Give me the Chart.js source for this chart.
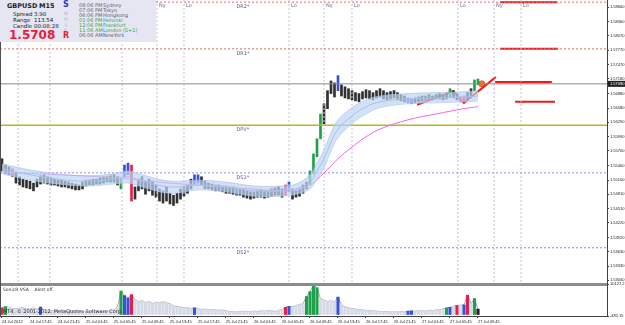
<!DOCTYPE html>
<html>
<head>
<meta charset="utf-8">
<script src="https://cdn.jsdelivr.net/npm/chart.js@4.4.0/dist/chart.umd.min.js"></script>
<style>
  body { margin: 0; background: #fff; }
  #wrap { position: relative; width: 625px; height: 325px; }
  #info { position: absolute; left: 0; top: 0; width: 156px; height: 42px; background: #e6e6f3;
          font-family: 'DejaVu Sans', sans-serif; color: #202020; }
  #info span { position: absolute; white-space: nowrap; }
  .sm { font-size: 5px; color: #606070; }
  .gr { color: #3aa04a; }
</style>
</head>
<body>
<div id="wrap">
  <canvas id="priceChart" width="625" height="325"></canvas>
  <div id="info">
    <span style="left:7px;top:2px;font-size:6.5px;font-weight:bold">GBPUSD</span>
    <span style="left:39px;top:2px;font-size:6.5px;font-weight:bold">M15</span>
    <span style="left:13px;top:11px;font-size:5.5px">Spread</span>
    <span style="left:34px;top:11px;font-size:5.5px">3.90</span>
    <span style="left:13px;top:17px;font-size:5.5px">Range</span>
    <span style="left:34px;top:17px;font-size:5.5px">113.54</span>
    <span style="left:13px;top:23px;font-size:5.5px">Candle</span>
    <span style="left:34px;top:23px;font-size:5.5px">00:08:28</span>
    <span style="left:9px;top:28px;font-size:12px;font-weight:bold;color:#e8203c">1.5708</span>
    <span style="left:63px;top:0px;font-size:8px;font-weight:bold;color:#2a3ad0">S</span>
    <span style="left:64px;top:9px;font-size:6px;color:#a8a8d8">o</span>
    <span style="left:64px;top:15px;font-size:6px;color:#a8a8d8">n</span>
    <span style="left:65px;top:21px;font-size:6px;color:#a8a8d8">i</span>
    <span style="left:64px;top:26px;font-size:6px;color:#a8a8d8">c</span>
    <span style="left:63px;top:31px;font-size:8px;font-weight:bold;color:#e8203c">R</span>
    <span class="sm" style="left:79px;top:2px">08:06 PM</span><span class="sm" style="left:103px;top:2px">Sydney</span>
    <span class="sm" style="left:79px;top:7px">07:06 PM</span><span class="sm" style="left:103px;top:7px">Tokyo</span>
    <span class="sm" style="left:79px;top:12px">06:06 PM</span><span class="sm" style="left:103px;top:12px">Hongkong</span>
    <span class="sm gr" style="left:79px;top:17px">01:06 PM</span><span class="sm gr" style="left:103px;top:17px">Helsinki</span>
    <span class="sm gr" style="left:79px;top:22px">12:06 PM</span><span class="sm gr" style="left:103px;top:22px">Frankfurt</span>
    <span class="sm gr" style="left:79px;top:27px">11:06 AM</span><span class="sm gr" style="left:103px;top:27px">London (S+1)</span>
    <span class="sm" style="left:79px;top:32px">06:06 AM</span><span class="sm" style="left:103px;top:32px">NewYork</span>
  </div>
</div>
<script>
// GBPUSD M15, every second bar kept (x = bar number, 30 min apart)
const timeLabels = ['24 Jul 2012', '24 Jul 17:45', '24 Jul 21:45', '25 Jul 01:45', '25 Jul 05:45',
    '25 Jul 09:45', '25 Jul 13:45', '25 Jul 17:45', '25 Jul 21:45', '26 Jul 01:45', '26 Jul 05:45',
    '26 Jul 09:45', '26 Jul 13:45', '26 Jul 17:45', '26 Jul 21:45', '27 Jul 01:45', '27 Jul 05:45',
    '27 Jul 09:45'];

const highs = [
    1.5554, 1.5541, 1.5537, 1.5533, 1.5525, 1.5517, 1.5512, 1.5510, 1.5508, 1.5504,
    1.5512, 1.5519, 1.5521, 1.5517, 1.5515, 1.5512, 1.5510, 1.5510, 1.5508, 1.5506,
    1.5504, 1.5502, 1.5500, 1.5506, 1.5510, 1.5510, 1.5512, 1.5512, 1.5515, 1.5517,
    1.5517, 1.5519, 1.5521, 1.5517, 1.5512, 1.5541, 1.5545, 1.5541, 1.5496, 1.5512,
    1.5517, 1.5508, 1.5512, 1.5508, 1.5500, 1.5492, 1.5488, 1.5496, 1.5483, 1.5479,
    1.5483, 1.5492, 1.5496, 1.5500, 1.5512, 1.5521, 1.5521, 1.5517, 1.5508, 1.5504,
    1.5502, 1.5500, 1.5500, 1.5498, 1.5498, 1.5496, 1.5496, 1.5494, 1.5492, 1.5492,
    1.5488, 1.5486, 1.5486, 1.5488, 1.5490, 1.5488, 1.5488, 1.5492, 1.5494, 1.5496,
    1.5492, 1.5500, 1.5506, 1.5492, 1.5488, 1.5492, 1.5500, 1.5506, 1.5529, 1.5564,
    1.5595, 1.5646, 1.5667, 1.5694, 1.5714, 1.5710, 1.5725, 1.5706, 1.5702, 1.5698,
    1.5694, 1.5690, 1.5688, 1.5692, 1.5696, 1.5694, 1.5690, 1.5694, 1.5698, 1.5694,
    1.5690, 1.5692, 1.5694, 1.5690, 1.5686, 1.5683, 1.5679, 1.5677, 1.5679, 1.5681,
    1.5683, 1.5683, 1.5686, 1.5683, 1.5686, 1.5688, 1.5686, 1.5688, 1.5698, 1.5694,
    1.5688, 1.5681, 1.5683, 1.5690, 1.5698, 1.5716, 1.5718];

const lows = [
    1.5529, 1.5523, 1.5521, 1.5517, 1.5504, 1.5500, 1.5496, 1.5494, 1.5492, 1.5488,
    1.5496, 1.5502, 1.5504, 1.5502, 1.5500, 1.5500, 1.5498, 1.5496, 1.5496, 1.5494,
    1.5492, 1.5490, 1.5490, 1.5492, 1.5498, 1.5500, 1.5500, 1.5502, 1.5502, 1.5504,
    1.5506, 1.5506, 1.5506, 1.5500, 1.5492, 1.5517, 1.5521, 1.5467, 1.5471, 1.5488,
    1.5492, 1.5481, 1.5488, 1.5479, 1.5475, 1.5467, 1.5463, 1.5467, 1.5461, 1.5458,
    1.5463, 1.5471, 1.5477, 1.5483, 1.5492, 1.5500, 1.5504, 1.5500, 1.5492, 1.5492,
    1.5490, 1.5488, 1.5488, 1.5486, 1.5483, 1.5483, 1.5481, 1.5479, 1.5479, 1.5475,
    1.5473, 1.5471, 1.5473, 1.5475, 1.5475, 1.5473, 1.5475, 1.5477, 1.5479, 1.5479,
    1.5475, 1.5479, 1.5486, 1.5471, 1.5475, 1.5477, 1.5483, 1.5492, 1.5500, 1.5523,
    1.5558, 1.5595, 1.5626, 1.5657, 1.5688, 1.5681, 1.5694, 1.5683, 1.5679, 1.5677,
    1.5675, 1.5673, 1.5671, 1.5677, 1.5679, 1.5677, 1.5675, 1.5679, 1.5681, 1.5677,
    1.5675, 1.5677, 1.5679, 1.5675, 1.5673, 1.5671, 1.5669, 1.5667, 1.5669, 1.5671,
    1.5673, 1.5675, 1.5675, 1.5675, 1.5677, 1.5677, 1.5675, 1.5677, 1.5681, 1.5679,
    1.5675, 1.5671, 1.5669, 1.5675, 1.5681, 1.5694, 1.5706];

const volumes = [
    2200, 2600, 2400, 2000, 1900, 2100, 2300, 2000, 1800, 2200,
    1700, 2500, 1500, 1300, 1200, 1400, 1100, 1300, 1200, 1000,
    1300, 1100, 1200, 1000, 900, 1100, 1000, 1200, 900, 1000,
    1100, 1200, 1500, 2500, 7800, 6300, 5500, 6600, 5000, 4200,
    4600, 3900, 4400, 3600, 4100, 3800, 4300, 3900, 3500, 2900,
    2600, 2500, 2200, 2300, 2000, 2200, 1900, 1700, 1800, 1600,
    1700, 1500, 1400, 1500, 1200, 1000, 900, 800, 1000, 1100,
    900, 1000, 1100, 1000, 1200, 1100, 1300, 1200, 1000, 1400,
    1600, 2400, 2700, 2500, 3000, 3300, 3600, 6000, 7600, 9800,
    8900, 5200, 4800, 4300, 4600, 4100, 5800, 3200, 2600, 2200,
    2000, 1800, 1600, 1500, 1400, 1300, 1200, 1100, 1000, 900,
    1000, 800, 900, 800, 900, 1000, 1100, 1200, 1100, 1200,
    1300, 1100, 1400, 1300, 1500, 1600, 1800, 2200, 2400, 2700,
    3000, 3100, 3200, 6400, 3600, 5300, 1800];

// VSA signal bars (indices)
const upBars = [34, 88, 89, 90, 91, 128, 135, 136];
const neutralBars = [35, 36, 55, 56, 67, 82, 96, 116, 117];
const downBars = [3, 37, 81, 131, 132];
const volUp = [1, 34, 87, 88, 89, 90, 127, 135];
const volNeutral = [11, 35, 36, 55, 82, 96, 116, 117, 128, 132];
const volDown = [0, 37, 81, 130, 133];
const volLast = [136];

// moving averages, sampled at bar numbers
const maBars = [0, 8, 16, 24, 32, 36, 40, 48, 56, 64, 72, 80, 84, 88, 90, 92, 94, 96, 100, 104, 108, 116, 124, 132, 136];
const maBlue = [1.5533, 1.5521, 1.5512, 1.5508, 1.5512, 1.5517, 1.5508, 1.5496, 1.5500, 1.5496, 1.5488, 1.5488,
    1.5492, 1.5506, 1.5529, 1.5554, 1.5588, 1.5615, 1.5642, 1.5661, 1.5671, 1.5677, 1.5679, 1.5681, 1.5683];
const bandUpper = [1.5543, 1.5531, 1.5523, 1.5519, 1.5523, 1.5529, 1.5521, 1.5508, 1.5510, 1.5506, 1.5498, 1.5498,
    1.5502, 1.5521, 1.5545, 1.5572, 1.5607, 1.5634, 1.5659, 1.5675, 1.5683, 1.5688, 1.5690, 1.5692, 1.5694];
const bandLower = [1.5523, 1.5510, 1.5502, 1.5498, 1.5502, 1.5504, 1.5496, 1.5483, 1.5490, 1.5486, 1.5477, 1.5477,
    1.5481, 1.5492, 1.5512, 1.5535, 1.5570, 1.5597, 1.5626, 1.5646, 1.5659, 1.5667, 1.5669, 1.5671, 1.5673];
const pinkBars = [0, 16, 32, 48, 64, 80, 84, 88, 92, 96, 100, 104, 108, 116, 124, 132, 136];
const maPink = [1.5527, 1.5521, 1.5515, 1.5504, 1.5496, 1.5488, 1.5490, 1.5500, 1.5525, 1.5554, 1.5578,
    1.5599, 1.5615, 1.5634, 1.5646, 1.5657, 1.5661];

// pivot levels
const levelNames = ['DR2*', 'DR1*', 'DPV*', 'DS1*', 'DS2*'];
const levelValues = [1.5876, 1.5780, 1.5623, 1.5525, 1.5371];
const bidPrice = 1.5708;

// session markers
const sessionBars = [4.6, 13.7, 34.3, 44.3, 52, 82, 92, 100, 130.3, 140.6, 148.3];
const sessionNames = ['', '', '', 'Ny', 'Lo', 'Lo', 'Ny', 'Lo', 'Lo', 'Ny', 'Lo'];

// hand drawn objects
const trendBars = [118.6, 128.9, 132, 141.1];
const trendPrices = [1.5665, 1.5693, 1.5669, 1.5722];
const segStart = [142.3, 142.3, 140.9, 146.6];
const segEnd = [158.6, 158.9, 157.1, 158];
const segPrices = [1.5876, 1.5780, 1.5712, 1.5671];
const priceTicks = [1.58660, 1.58360, 1.58070, 1.57770, 1.57470, 1.57180, 1.56880, 1.56580, 1.56290, 1.55990,
    1.55700, 1.55400, 1.55100, 1.54810, 1.54510, 1.54220, 1.53920, 1.53630, 1.53330, 1.53040];
const volTicks = [-482.15, 10127.2];

const X_MIN = -0.571, X_MAX = 172.86;
const Y_MAX = 1.58804, Y_MIN = 1.52965;
const Y_FULL_MIN = 1.52306; // price at the bottom of the indicator window

const colorOf = (i, up, mid, down, base) =>
    up.includes(i) ? '#21a04a' : mid.includes(i) ? '#3652d8' : down.includes(i) ? '#e3204c' : base;

const datasets = [];

datasets.push({
    type: 'line', yAxisID: 'y',
    data: maBars.map((b, i) => ({ x: b, y: bandUpper[i] })),
    borderColor: 'rgba(160,190,235,0.6)', borderWidth: 1, pointRadius: 0, tension: 0.4,
    fill: '+1', backgroundColor: 'rgba(190,212,242,0.7)'
});
datasets.push({
    type: 'line', yAxisID: 'y',
    data: maBars.map((b, i) => ({ x: b, y: bandLower[i] })),
    borderColor: 'rgba(160,190,235,0.6)', borderWidth: 1, pointRadius: 0, tension: 0.4, fill: false
});
datasets.push({
    type: 'line', yAxisID: 'y',
    data: maBars.map((b, i) => ({ x: b, y: maBlue[i] })),
    borderColor: '#7d90dc', borderWidth: 1, pointRadius: 0, tension: 0.4
});
datasets.push({
    type: 'line', yAxisID: 'y',
    data: pinkBars.map((b, i) => ({ x: b, y: maPink[i] })),
    borderColor: '#ee66ee', borderWidth: 1, pointRadius: 0, tension: 0.4
});

// level lines
const levelColors = ['#e07070', '#e07070', '#b8b820', '#8c8cf0', '#8c8cf0'];
levelValues.forEach((v, i) => datasets.push({
    type: 'line', yAxisID: 'y',
    data: [{ x: X_MIN, y: v }, { x: X_MAX, y: v }],
    borderColor: levelColors[i], borderWidth: i === 2 ? 1.5 : 1,
    borderDash: i === 2 ? [] : [2, 2], pointRadius: 0
}));
datasets.push({
    type: 'line', yAxisID: 'y',
    data: [{ x: X_MIN, y: bidPrice }, { x: X_MAX, y: bidPrice }],
    borderColor: '#8a8a8a', borderWidth: 1, pointRadius: 0
});

sessionBars.forEach(b => datasets.push({
    type: 'line', yAxisID: 'y',
    data: [{ x: b, y: Y_MAX }, { x: b, y: Y_FULL_MIN }],
    borderColor: '#c4c4dc', borderWidth: 1, borderDash: [2, 2], pointRadius: 0
}));

// candles as high-low ranges
datasets.push({
    type: 'bar', yAxisID: 'y', grouped: false,
    data: highs.map((h, i) => ({ x: i, y: [lows[i], h] })),
    backgroundColor: highs.map((h, i) => colorOf(i, upBars, neutralBars, downBars, '#303030')),
    barThickness: 2, borderWidth: 0
});

// volume
datasets.push({
    type: 'bar', yAxisID: 'yv', grouped: false,
    data: volumes.map((v, i) => ({ x: i, y: v })),
    backgroundColor: volumes.map((v, i) => volLast.includes(i) ? '#202020' :
        colorOf(i, volUp, volNeutral, volDown, '#d6dae6')),
    barThickness: 2.5, borderWidth: 0
});
datasets.push({
    type: 'line', yAxisID: 'yv',
    data: volumes.map((v, i) => ({ x: i, y: v })),
    borderColor: '#a4a9b8', borderWidth: 1, pointRadius: 0
});

// drawn objects
datasets.push({
    type: 'line', yAxisID: 'y',
    data: trendBars.map((b, i) => ({ x: b, y: trendPrices[i] })),
    borderColor: '#f01818', borderWidth: 2, pointRadius: 0
});
segPrices.forEach((p, i) => datasets.push({
    type: 'line', yAxisID: 'y',
    data: [{ x: segStart[i], y: p }, { x: segEnd[i], y: p }],
    borderColor: '#f01818', borderWidth: 2, pointRadius: 0
}));
datasets.push({
    type: 'scatter', yAxisID: 'y',
    data: [{ x: 137.1, y: bidPrice }],
    backgroundColor: '#f07a2a', borderColor: '#e05010', pointRadius: 3
});

const overlay = {
    id: 'overlay',
    afterDatasetsDraw(chart) {
        const { ctx, chartArea, scales: { x, y, yv } } = chart;
        ctx.save();
        ctx.fillStyle = '#8c8c8c';
        ctx.fillRect(0, y.bottom - 1, chartArea.right, 3);
        ctx.fillStyle = '#505050';
        ctx.fillRect(0, 0, 1, chartArea.bottom);

        ctx.font = '5px "DejaVu Sans"';
        ctx.textBaseline = 'top';
        ctx.fillStyle = '#5a5a8a';
        levelNames.forEach((n, i) => ctx.fillText(n, x.getPixelForValue(67), y.getPixelForValue(levelValues[i]) + 2));
        ctx.fillStyle = '#6a6a90';
        sessionNames.forEach((n, i) => ctx.fillText(n, x.getPixelForValue(sessionBars[i]) + 2, 3));

        ctx.fillStyle = '#303030';
        ctx.font = '4.5px "DejaVu Sans"';
        ctx.fillText('SonicR VSA    Alert off.', 3, yv.top + 4);
        ctx.font = '5px "DejaVu Sans"';
        ctx.fillText('MT4, \u00a9 2001-2012, MetaQuotes Software Corp.', 3, chartArea.bottom - 7);

        // bid price box on the axis
        const py = y.getPixelForValue(bidPrice);
        ctx.fillStyle = '#202020';
        ctx.fillRect(chartArea.right + 1, py - 3, 18, 6);
        ctx.fillStyle = '#ffffff';
        ctx.textBaseline = 'middle';
        ctx.font = '4px "Liberation Sans"';
        ctx.fillText(bidPrice.toFixed(5), chartArea.right + 3, py);
        ctx.restore();
    }
};

const tickFont = { family: 'Liberation Sans', size: 4 };

new Chart(document.getElementById('priceChart'), {
    data: { datasets: datasets },
    options: {
        responsive: false,
        animation: false,
        layout: { padding: 0, autoPadding: false },
        plugins: { legend: { display: false }, tooltip: { enabled: false } },
        scales: {
            x: {
                type: 'linear', min: X_MIN, max: X_MAX, offset: false,
                afterBuildTicks: s => { s.ticks = timeLabels.map((t, i) => ({ value: i * 8 })); },
                afterFit: s => { s.height = 9; s.paddingLeft = 0; s.paddingRight = 0; },
                ticks: {
                    callback: (v) => timeLabels[Math.round(v / 8)] || '',
                    font: tickFont, color: '#202020', align: 'start', maxRotation: 0, autoSkip: false, padding: 1
                },
                grid: { display: true, drawOnChartArea: false, tickLength: 2, color: '#404040', offset: false },
                border: { color: '#404040' }
            },
            y: {
                type: 'linear', position: 'right', stack: 'win', stackWeight: 284,
                min: Y_MIN, max: Y_MAX,
                afterBuildTicks: s => { s.ticks = priceTicks.map(v => ({ value: v })); },
                afterFit: s => { s.width = 18; s.paddingTop = 0; s.paddingBottom = 0; },
                ticks: { callback: v => v.toFixed(5), font: tickFont, color: '#202020', padding: 1, autoSkip: false },
                grid: { display: true, drawOnChartArea: false, tickLength: 2, color: '#404040' },
                border: { color: '#404040' }
            },
            yv: {
                type: 'linear', position: 'right', stack: 'win', stackWeight: 32,
                min: -482.15, max: 10127.2,
                afterBuildTicks: s => { s.ticks = volTicks.map(v => ({ value: v })); },
                afterFit: s => { s.width = 18; s.paddingTop = 0; s.paddingBottom = 0; },
                ticks: { callback: v => String(v), font: tickFont, color: '#202020', padding: 1, autoSkip: false },
                grid: { display: true, drawOnChartArea: false, tickLength: 2, color: '#404040' },
                border: { color: '#404040' }
            }
        }
    },
    plugins: [overlay]
});
</script>
</body>
</html>
